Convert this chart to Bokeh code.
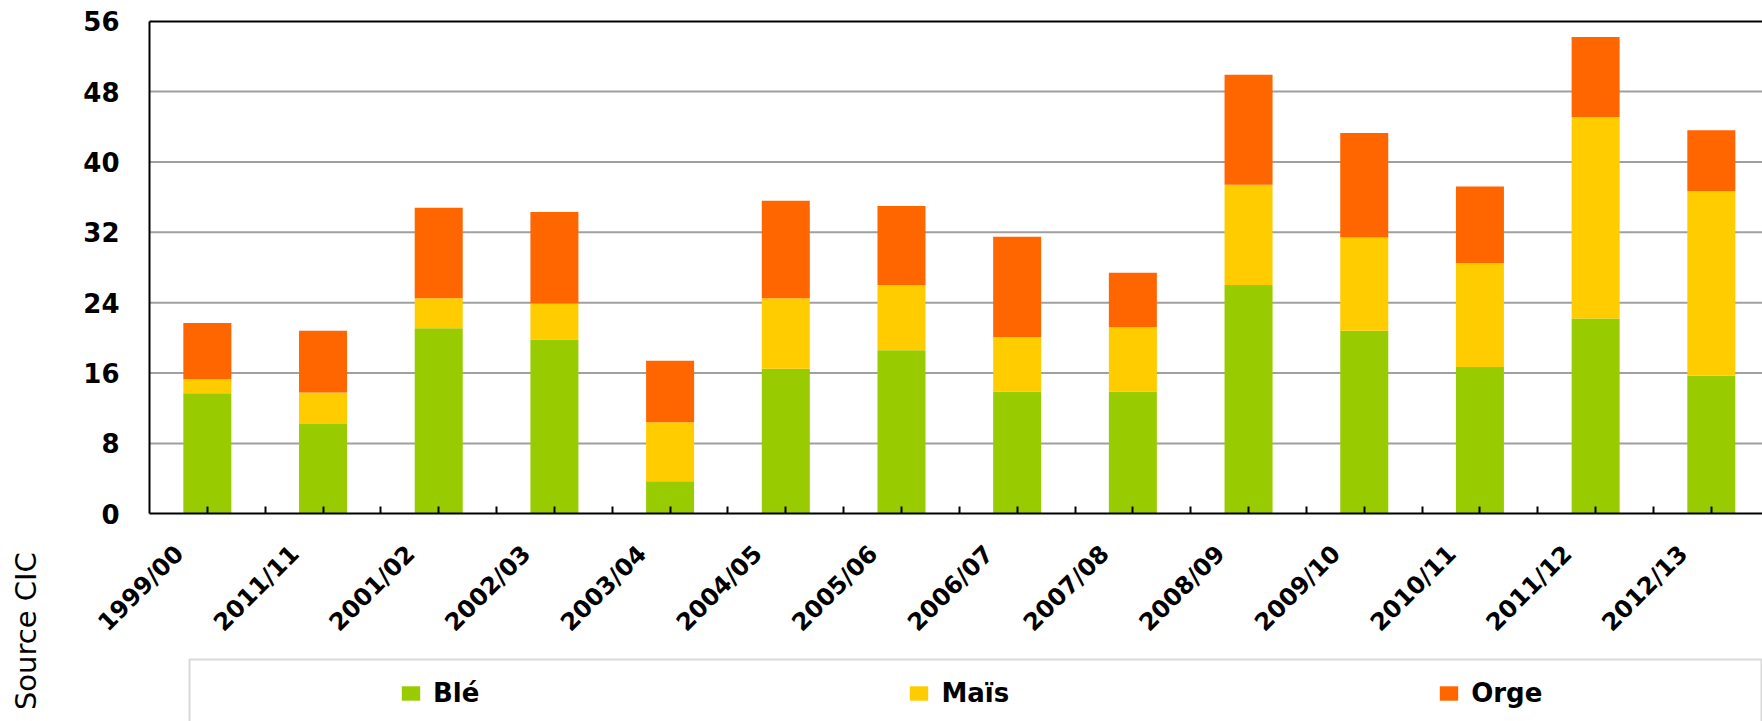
from math import pi
from bokeh.plotting import figure
from bokeh.models import (Range1d, FixedTicker, Legend, LegendItem, Label,
                          BoxAnnotation, LinearAxis, ColumnDataSource)
from bokeh.embed import file_html
from bokeh.resources import INLINE

# ---------------- data ----------------
seasons = ["1999/00", "2011/11", "2001/02", "2002/03", "2003/04", "2004/05",
           "2005/06", "2006/07", "2007/08", "2008/09", "2009/10", "2010/11",
           "2011/12", "2012/13"]
ble = [13.7, 10.2, 21.1, 19.8, 3.7, 16.5, 18.6, 13.9, 13.9, 26.0, 20.8, 16.7, 22.2, 15.7]
mais = [1.6, 3.6, 3.4, 4.1, 6.7, 8.0, 7.4, 6.2, 7.3, 11.4, 10.6, 11.8, 22.9, 21.0]
orge = [6.4, 7.0, 10.3, 10.4, 7.0, 11.1, 9.0, 11.4, 6.2, 12.5, 11.9, 8.7, 9.1, 6.9]
series = ["Blé", "Maïs", "Orge"]
colors = ["#99CC00", "#FFCC00", "#FF6600"]
y_ticks = [0, 8, 16, 24, 32, 40, 48, 56]
source_text = "Source  CIC"

# ---------------- layout (pixels) ----------------
W, H = 1762, 721
AXIS_X, AXIS_TOP = 149, 20.7     # pixel position of x=0 and of y=56
PPU_X = 115.69                   # pixels per category
PPU_Y = 8.796                    # pixels per unit
FONT = "DejaVu Sans"

x_start = -AXIS_X / PPU_X
x_end = x_start + W / PPU_X
y_end = 56 + AXIS_TOP / PPU_Y
y_start = y_end - H / PPU_Y


def xd(px):
    return x_start + px / PPU_X


def yd(py):
    return y_end - py / PPU_Y


n = len(seasons)
centers = [i + 0.5 for i in range(n)]
half_ticks = [0.5 * k for k in range(1, 2 * n)]
label_pos = [round(c - 28.0 / PPU_X, 4) for c in centers]
grid_y = y_ticks[1:-1]

src = ColumnDataSource(dict(x=centers, ble=ble, mais=mais, orge=orge))
grid_src = ColumnDataSource(dict(x0=[0] * len(grid_y), x1=[x_end] * len(grid_y), y=grid_y))

p = figure(width=W, height=H,
           x_range=Range1d(x_start, x_end), y_range=Range1d(y_start, y_end),
           output_backend="svg", toolbar_location=None, title=None,
           x_axis_location=None, y_axis_location=None,
           min_border_left=0, min_border_right=0,
           min_border_top=0, min_border_bottom=0)
p.background_fill_color = "white"
p.border_fill_color = "white"
p.outline_line_color = None
p.xgrid.visible = False
p.ygrid.visible = False

# horizontal grid lines, starting at the value axis
p.segment(x0="x0", y0="y", x1="x1", y1="y", source=grid_src,
          line_color="#a0a0a0", line_width=2, level="underlay")

# ---------------- axes ----------------
ya = LinearAxis(fixed_location=0, bounds=(0, 56), ticker=FixedTicker(ticks=y_ticks),
                major_tick_in=0, major_tick_out=0, minor_tick_line_color=None,
                axis_line_color="black", axis_line_width=2,
                major_label_standoff=30, major_label_text_font=FONT,
                major_label_text_font_style="bold", major_label_text_font_size="26px",
                major_label_text_color="black")
p.add_layout(ya, "left")

xa = LinearAxis(fixed_location=0, bounds=(0, x_end),
                ticker=FixedTicker(ticks=label_pos, minor_ticks=half_ticks),
                major_label_overrides={pos: s for pos, s in zip(label_pos, seasons)},
                major_label_orientation=pi / 4,
                major_tick_in=0, major_tick_out=0,
                minor_tick_in=7, minor_tick_out=0,
                minor_tick_line_color="black", minor_tick_line_width=2,
                axis_line_color="black", axis_line_width=2,
                major_label_standoff=36, major_label_text_font=FONT,
                major_label_text_font_style="bold", major_label_text_font_size="24px",
                major_label_text_color="black")
p.add_layout(xa, "below")

top = LinearAxis(fixed_location=56, bounds=(0, x_end), ticker=FixedTicker(ticks=[]),
                 major_tick_in=0, major_tick_out=0, minor_tick_in=0, minor_tick_out=0,
                 major_label_text_font_size="0px",
                 axis_line_color="black", axis_line_width=2)
p.add_layout(top, "above")

# ---------------- bars ----------------
renderers = p.vbar_stack(["ble", "mais", "orge"], x="x", width=0.415,
                         source=src, fill_color=colors, line_color=None)

# ---------------- source note ----------------
p.add_layout(Label(x=xd(25), y=yd(626), text=source_text, angle=pi / 2,
                   text_align="center", text_baseline="middle",
                   text_font=FONT, text_font_size="29px", text_color="black"))

# ---------------- legend ----------------
p.add_layout(BoxAnnotation(left=xd(189), right=xd(1761), top=yd(659), bottom=yd(760),
                           fill_alpha=0, line_color="#808080", line_width=2))

legend = Legend(items=[LegendItem(label=s, renderers=[r]) for s, r in zip(series, renderers)],
                orientation="horizontal", location=(399, 13), padding=0,
                spacing=428, glyph_width=23, glyph_height=18, label_standoff=11,
                border_line_color=None, background_fill_alpha=0,
                label_text_font=FONT, label_text_font_style="bold",
                label_text_font_size="26px", label_text_color="black")
p.add_layout(legend)

open("out.html", "w").write(file_html(p, INLINE))
